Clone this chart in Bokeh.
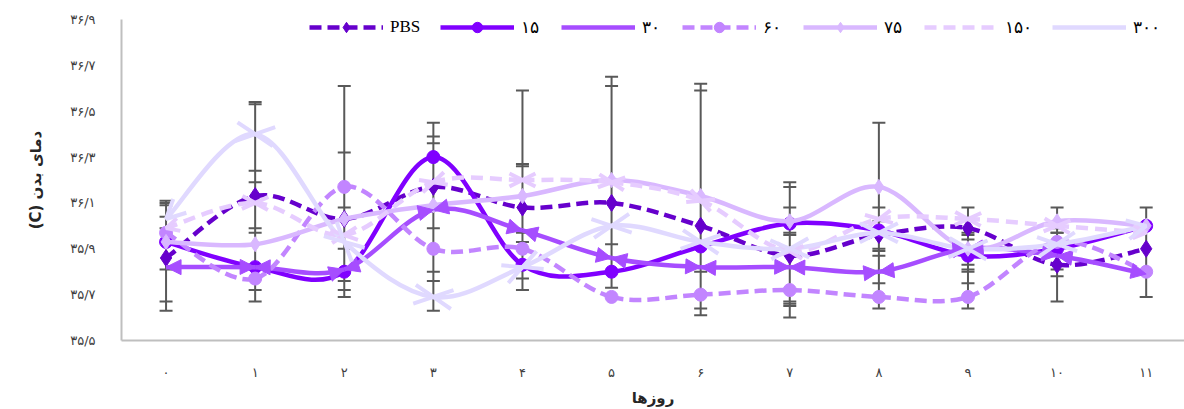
from bokeh.plotting import figure
from bokeh.models import (ColumnDataSource, FixedTicker, Legend, LegendItem, Range1d,
                          Arrow, NormalHead, OpenHead)
from bokeh.embed import file_html
from bokeh.resources import INLINE

# ---------------- data ----------------
days = list(range(12))
day_labels = ["۰", "۱", "۲", "۳", "۴", "۵", "۶", "۷", "۸", "۹", "۱۰", "۱۱"]
y_ticks = [35.5, 35.7, 35.9, 36.1, 36.3, 36.5, 36.7, 36.9]
y_tick_labels = ["۳۵/۵", "۳۵/۷", "۳۵/۹", "۳۶/۱", "۳۶/۳", "۳۶/۵", "۳۶/۷", "۳۶/۹"]
x_title = "روزها"
y_title = "دمای بدن (C)"

series_names = ["PBS", "۱۵", "۳۰", "۶۰", "۷۵", "۱۵۰", "۳۰۰"]
pbs  = [35.86, 36.13, 36.03, 36.17, 36.08, 36.10, 36.00, 35.87, 35.96, 35.99, 35.83, 35.90]
s15  = [35.93, 35.82, 35.80, 36.30, 35.83, 35.80, 35.91, 36.01, 35.98, 35.87, 35.90, 36.00]
s30  = [35.82, 35.82, 35.81, 36.07, 35.98, 35.86, 35.82, 35.82, 35.80, 35.90, 35.87, 35.79]
s60  = [35.97, 35.77, 36.17, 35.90, 35.90, 35.69, 35.70, 35.72, 35.69, 35.69, 35.93, 35.80]
s75  = [35.93, 35.92, 36.03, 36.09, 36.13, 36.20, 36.13, 36.02, 36.17, 35.90, 36.02, 36.00]
s150 = [35.99, 36.10, 35.96, 36.19, 36.20, 36.19, 36.11, 35.89, 36.03, 36.03, 36.00, 35.97]
s300 = [36.03, 36.40, 35.93, 35.69, 35.82, 36.00, 35.93, 35.90, 35.97, 35.90, 35.92, 36.00]

# error-bar cap levels per day (all series, grey)
err_caps = [
    [36.11, 36.10, 36.09, 36.04, 35.99, 35.81, 35.67, 35.63],
    [36.54, 36.53, 36.24, 36.19, 35.99, 35.97, 35.72, 35.67],
    [36.61, 36.32, 36.08, 35.90, 35.76, 35.72, 35.69],
    [36.45, 36.39, 36.36, 35.99, 35.80, 35.76, 35.63],
    [36.59, 36.27, 36.26, 35.97, 35.93, 35.77, 35.72],
    [36.65, 36.61, 35.92, 35.73],
    [36.62, 36.59, 35.80, 35.64, 35.61],
    [36.19, 36.17, 36.08, 35.97, 35.96, 35.67, 35.66, 35.65, 35.60],
    [36.45, 36.08, 36.02, 35.90, 35.89, 35.87, 35.75, 35.64],
    [36.08, 35.97, 35.96, 35.94, 35.90, 35.83, 35.81, 35.80, 35.75, 35.64],
    [36.08, 35.99, 35.97, 35.97, 35.81, 35.78, 35.67],
    [36.08, 35.69],
]

# ---------------- styles ----------------
colors = ["#6600CC", "#8000FF", "#A64DFF", "#C285FF", "#D9B8FF", "#E6CCFF", "#E0D9FF"]
dashes = ["12 6", "solid", "solid", "12 6", "solid", "12 7", "solid"]
markers = ["diamond", "circle", None, "circle", "diamond", None, None]
msizes = [17, 13, 0, 13, 15, 0, 0]
arrow_kind = [None, None, "normal", None, None, "open_small", "open"]
all_series = [pbs, s15, s30, s60, s75, s150, s300]

FONT = "DejaVu Sans"
NAN = float("nan")

p = figure(width=1184, height=409, output_backend="svg", toolbar_location=None,
           x_range=Range1d(-0.5, 11.43), y_range=Range1d(35.5, 36.9),
           min_border_left=121, min_border_right=0, min_border_top=19, min_border_bottom=68)
p.outline_line_color = None
p.grid.visible = False
p.background_fill_color = "white"

# axes
p.xaxis.ticker = FixedTicker(ticks=days)
p.xaxis.major_label_overrides = {d: l for d, l in zip(days, day_labels)}
p.yaxis.ticker = FixedTicker(ticks=y_ticks)
p.yaxis.major_label_overrides = {t: l for t, l in zip(y_ticks, y_tick_labels)}
for ax in (p.xaxis, p.yaxis):
    ax.axis_line_color = "#BFBFBF"
    ax.axis_line_width = 2
    ax.major_tick_line_color = None
    ax.minor_tick_line_color = None
    ax.major_tick_out = 0
    ax.major_tick_in = 0
    ax.minor_tick_out = 0
    ax.minor_tick_in = 0
    ax.major_label_text_font = FONT
    ax.major_label_text_font_size = "13px"
    ax.major_label_text_color = "#404040"
    ax.axis_label_text_font = FONT
    ax.axis_label_text_font_style = "bold"
    ax.axis_label_text_font_size = "15px"
    ax.axis_label_text_color = "#262626"
p.xaxis.major_label_standoff = 24
p.xaxis.axis_label = x_title
p.xaxis.axis_label_standoff = 6
p.yaxis.major_label_standoff = 26
# RTL embedding so that the rotated title reads like the original
p.yaxis.axis_label = "\u202B" + y_title + "\u202C"
p.yaxis.axis_label_standoff = 22

# error bars
eb_x, eb_lo, eb_hi, cap_x, cap_y = [], [], [], [], []
for d, caps in zip(days, err_caps):
    eb_x.append(d); eb_lo.append(min(caps)); eb_hi.append(max(caps))
    for c in caps:
        cap_x.append(d); cap_y.append(c)
p.segment(x0=eb_x, y0=eb_lo, x1=eb_x, y1=eb_hi, line_color="#595959", line_width=2)
p.scatter(x=cap_x, y=cap_y, marker="dash", size=13, line_color="#595959", line_width=2)


def smooth(xs, ys):
    n = len(xs)
    out = {k: [] for k in ("x0", "y0", "x1", "y1", "cx0", "cy0", "cx1", "cy1")}
    for i in range(n - 1):
        pr = max(i - 1, 0)
        nx = min(i + 2, n - 1)
        out["x0"].append(xs[i]); out["y0"].append(ys[i])
        out["x1"].append(xs[i + 1]); out["y1"].append(ys[i + 1])
        out["cx0"].append(xs[i] + (xs[i + 1] - xs[pr]) / 6)
        out["cy0"].append(ys[i] + (ys[i + 1] - ys[pr]) / 6)
        out["cx1"].append(xs[i + 1] - (xs[nx] - xs[i]) / 6)
        out["cy1"].append(ys[i + 1] - (ys[nx] - ys[i]) / 6)
    return out


legend_items = []
for name, vals, col, dash, mk, ms, ak in zip(series_names, all_series, colors, dashes,
                                              markers, msizes, arrow_kind):
    seg = smooth(days, vals)
    src = ColumnDataSource(seg)
    p.bezier(x0="x0", y0="y0", x1="x1", y1="y1", cx0="cx0", cy0="cy0", cx1="cx1", cy1="cy1",
             source=src, line_color=col, line_width=4.5, line_dash=dash)
    if ak is not None:
        a_src = ColumnDataSource(dict(
            xs=seg["cx0"] + seg["cx1"], ys=seg["cy0"] + seg["cy1"],
            xe=seg["x0"] + seg["x1"], ye=seg["y0"] + seg["y1"]))
        if ak == "normal":
            head = NormalHead(size=15, fill_color=col, line_color=col, line_width=1)
        elif ak == "open_small":
            head = OpenHead(size=13, line_color=col, line_width=4)
        else:
            head = OpenHead(size=19, line_color=col, line_width=4)
        p.add_layout(Arrow(x_start="xs", y_start="ys", x_end="xe", y_end="ye", source=a_src,
                           end=head, line_alpha=0, line_width=0))
    rends = []
    # legend-only line (a single NaN point, so nothing is drawn in the plot)
    dl = p.line(x=[NAN], y=[NAN], line_color=col, line_width=4.5, line_dash=dash)
    rends.append(dl)
    if mk is not None:
        sc = p.scatter(x=days, y=vals, marker=mk, size=ms, fill_color=col, line_color=col)
        rends.append(sc)
    legend_items.append(LegendItem(label=name, renderers=rends, index=0))

legend = Legend(items=legend_items, orientation="horizontal", location=(188, 300),
                glyph_width=74, glyph_height=26, label_height=26, label_standoff=7, spacing=20,
                padding=0, margin=0, border_line_alpha=0, background_fill_alpha=0,
                label_text_font="Liberation Serif", label_text_font_size="17px",
                label_text_color="#000000")
p.add_layout(legend)

open("out.html", "w").write(file_html(p, INLINE))
